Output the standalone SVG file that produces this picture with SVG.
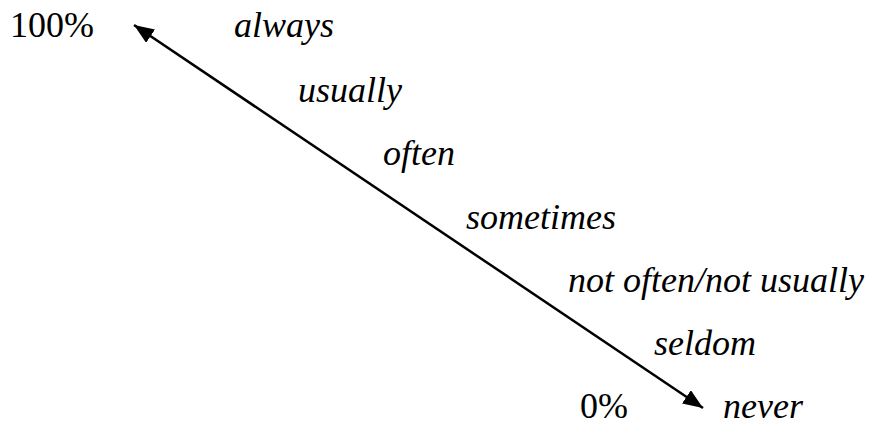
<svg xmlns="http://www.w3.org/2000/svg" width="880" height="430" viewBox="0 0 880 430">
<defs>
<marker id="a" viewBox="0 0 20 16" refX="20" refY="8" markerWidth="20" markerHeight="16" markerUnits="userSpaceOnUse" orient="auto-start-reverse">
<path d="M0,0 L20,8 L0,16 z" fill="#000"/>
</marker>
</defs>
<rect width="880" height="430" fill="#fff"/>
<g id="connectors">
<line x1="134" y1="25" x2="703" y2="408" stroke="#000" stroke-width="2.5" marker-start="url(#a)" marker-end="url(#a)"/>
</g>
<g id="n100"><text x="10" y="37" font-family="Liberation Serif, serif" font-size="36">100%</text></g>
<g id="always"><text x="234" y="37" font-family="Liberation Serif, serif" font-size="36"><tspan font-style="italic">always</tspan></text></g>
<g id="usually"><text x="298" y="102" font-family="Liberation Serif, serif" font-size="36"><tspan font-style="italic">usually</tspan></text></g>
<g id="often"><text x="383" y="165" font-family="Liberation Serif, serif" font-size="36"><tspan font-style="italic">often</tspan></text></g>
<g id="sometimes"><text x="466" y="229" font-family="Liberation Serif, serif" font-size="36"><tspan font-style="italic">sometimes</tspan></text></g>
<g id="notoften"><text x="568" y="292" font-family="Liberation Serif, serif" font-size="36"><tspan font-style="italic">not often/not usually</tspan></text></g>
<g id="seldom"><text x="654" y="355" font-family="Liberation Serif, serif" font-size="36"><tspan font-style="italic">seldom</tspan></text></g>
<g id="n0"><text x="580" y="418" font-family="Liberation Serif, serif" font-size="36">0%</text></g>
<g id="never"><text x="723" y="418" font-family="Liberation Serif, serif" font-size="36"><tspan font-style="italic">never</tspan></text></g>
</svg>
